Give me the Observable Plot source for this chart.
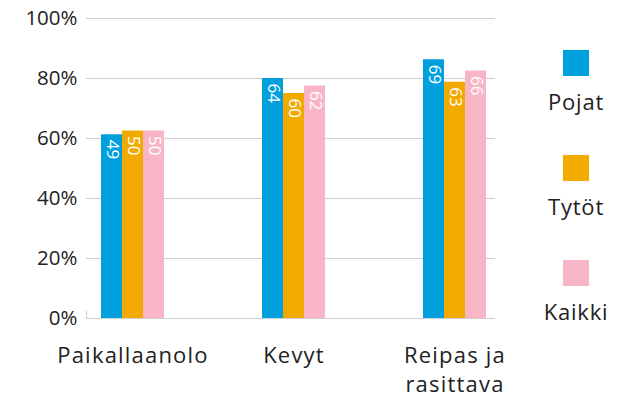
<!DOCTYPE html>
<html><head><meta charset="utf-8">
<script src="https://cdn.jsdelivr.net/npm/d3@7"></script>
<script src="https://cdn.jsdelivr.net/npm/@observablehq/plot@0.6"></script>
<style>
body{margin:0;background:#fff;font-family:"Open Sans",Lato,sans-serif}
#wrap{position:relative;width:623px;height:400px}
#wrap svg{position:absolute;left:0;top:0}
#wrap svg [aria-label="fx-axis tick label"] text{letter-spacing:1.2px}
#legend{position:absolute;left:536px;top:50px;width:80px}
.item{height:105px;text-align:center}
.sw{width:26px;height:26px;margin:0 auto}
.lab{font-size:22px;letter-spacing:0.8px;color:#222;margin-top:11px;line-height:28px}
</style></head><body><div id="wrap"><div id="legend"></div></div>
<script>
const groups = ["Paikallaanolo", "Kevyt", "Reipas ja rasittava"];
const groupLabels = ["Paikallaanolo", "Kevyt", "Reipas ja\nrasittava"];
const series = ["Pojat", "Tytöt", "Kaikki"];
const colors = ["#00a0dc", "#f2a900", "#f7b5c6"];
const pojatPct = [61.25, 80, 86.25];
const tytotPct = [62.5, 75, 78.75];
const kaikkiPct = [62.5, 77.5, 82.5];
const pojatN = [49, 64, 69];
const tytotN = [50, 60, 63];
const kaikkiN = [50, 62, 66];
const yTicks = [0, 20, 40, 60, 80, 100];

const pcts = [pojatPct, tytotPct, kaikkiPct];
const ns = [pojatN, tytotN, kaikkiN];
const data = [];
groups.forEach((g, gi) => series.forEach((s, si) => data.push({group: g, series: s, pct: pcts[si][gi], n: ns[si][gi]})));

const font = "'Open Sans', Lato, sans-serif";
const common = {
  width: 623, height: 400,
  marginLeft: 86, marginRight: 128, marginTop: 18, marginBottom: 82,
  y: {domain: [0, 100], axis: null}
};
const base = Plot.plot({
  ...common,
  style: {fontFamily: font, background: "white", color: "#222"},
  x: {domain: [0, 1], axis: null},
  marks: [
    Plot.ruleY(yTicks, {y: d => d, stroke: "#cfcfcf", strokeWidth: 1.2}),
    Plot.ruleX([0], {x: d => d, y1: 0, y2: 2.3, stroke: "#cfcfcf", strokeWidth: 1.2}),
    Plot.text(yTicks, {y: d => d, text: d => d + "%", frameAnchor: "left", textAnchor: "end", dx: -9, fontSize: 20.5, fill: "#222"})
  ]
});
const chart = Plot.plot({
  ...common,
  style: {fontFamily: font, background: "transparent", color: "#222"},
  fx: {domain: groups, paddingInner: 0.596, paddingOuter: 0.068, align: 0.636, label: null, axis: null},
  x: {domain: series, padding: 0, axis: null},
  color: {domain: series, range: colors},
  marks: [
    Plot.barY(data, {fx: "group", x: "series", y: "pct", fill: "series"}),
    Plot.text(data, {fx: "group", x: "series", y: "pct", text: "n", rotate: 90, textAnchor: "start", lineAnchor: "middle", dy: 5, fill: "white", fontSize: 17}),
    Plot.axisFx({anchor: "bottom", tickSize: 0, tickPadding: 24, fontSize: 22, lineHeight: 1.32, label: null, tickFormat: d => groupLabels[groups.indexOf(d)], fill: "#222"})
  ]
});
const wrap = document.getElementById("wrap");
wrap.insertBefore(chart, wrap.firstChild);
wrap.insertBefore(base, wrap.firstChild);
const legend = document.getElementById("legend");
series.forEach((s, i) => {
  const it = document.createElement("div");
  it.className = "item";
  it.innerHTML = `<div class="sw" style="background:${colors[i]}"></div><div class="lab">${s}</div>`;
  legend.appendChild(it);
});
</script></body></html>
